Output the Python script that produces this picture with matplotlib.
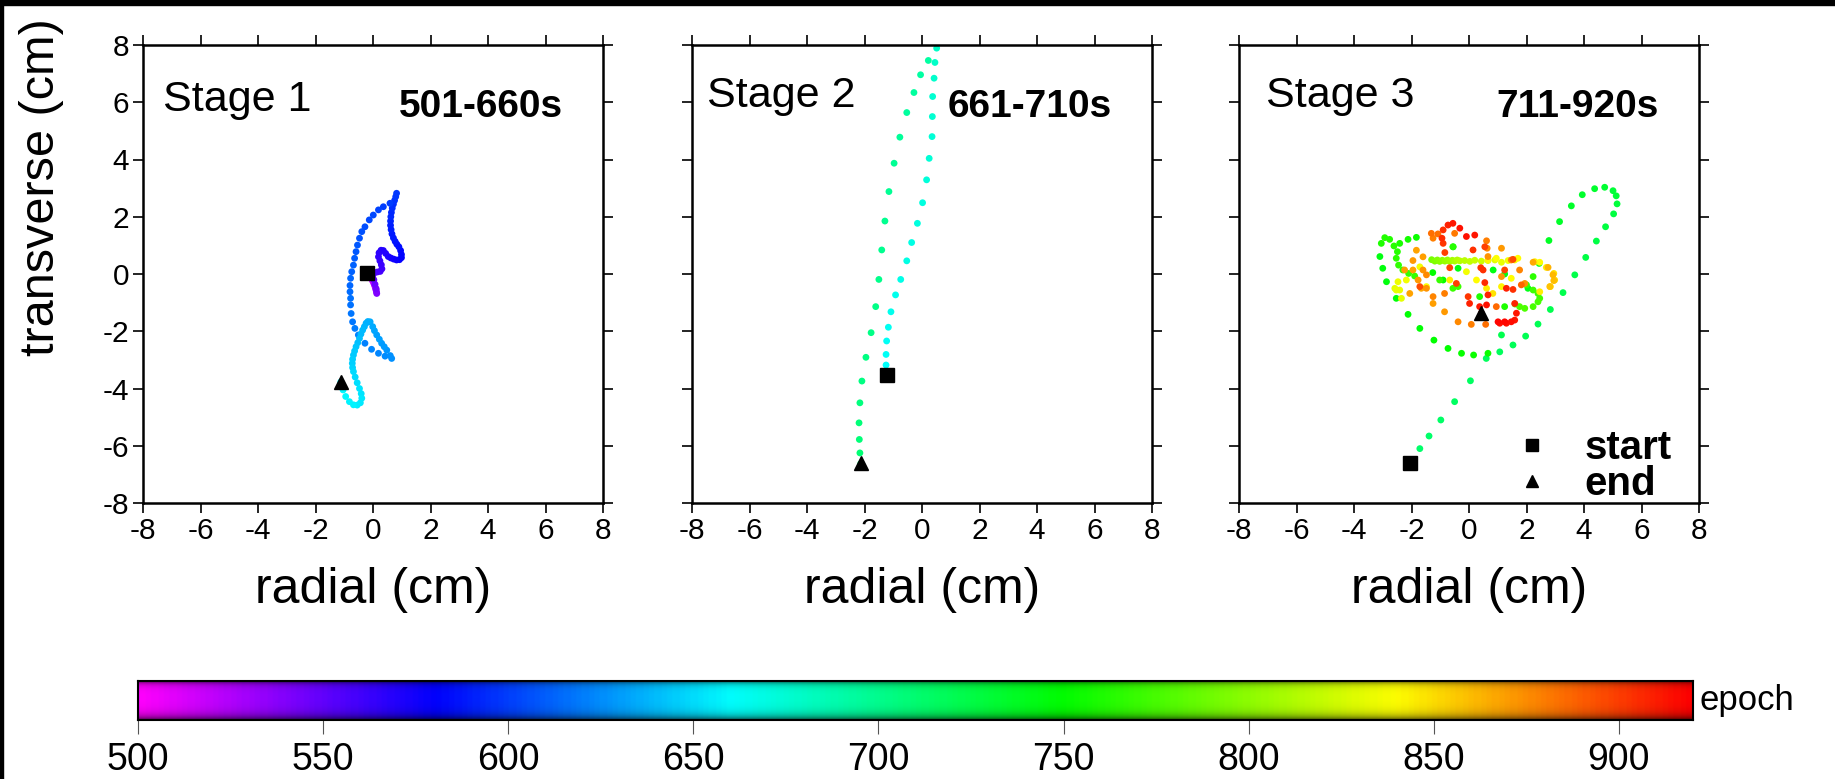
"""Particle motion in three stages, coloured by epoch."""

import matplotlib.pyplot as plt
import numpy as np
from matplotlib.colors import LinearSegmentedColormap, Normalize
from matplotlib.lines import Line2D
from matplotlib.patches import Rectangle

plt.rcParams["font.family"] = ["Liberation Sans", "DejaVu Sans"]
plt.rcParams["axes.unicode_minus"] = False

# ---- data (cm, epoch in s) ----
stage_titles = ["Stage 1", "Stage 2", "Stage 3"]
stage_ranges = ["501-660s", "661-710s", "711-920s"]

s1_x = [-0.22, -0.17, -0.11, -0.06, -0.02, 0.02, 0.05, 0.08, 0.10, 0.12, 0.13,
        0.11, 0.07, 0.03, -0.01,
        0.05, 0.15, 0.25, 0.31, 0.29, 0.24, 0.19, 0.21, 0.28, 0.36, 0.44, 0.53,
        0.62, 0.72, 0.82, 0.92, 0.99, 0.99, 0.96,
        0.90, 0.83, 0.77, 0.71, 0.66, 0.63, 0.61, 0.61, 0.62, 0.64, 0.67, 0.71,
        0.75, 0.79, 0.82,
        0.59, 0.36, 0.19, 0.01, -0.13, -0.28, -0.39, -0.47, -0.54, -0.59, -0.64,
        -0.68, -0.74, -0.78, -0.80, -0.80, -0.78, -0.78, -0.76, -0.71, -0.63,
        -0.51, -0.28, -0.05, 0.19, 0.42, 0.65,
        0.60, 0.48, 0.39, 0.30, 0.22, 0.13, 0.05, -0.01, -0.10, -0.18, -0.24,
        -0.30, -0.36, -0.42, -0.47, -0.53, -0.59, -0.64, -0.68, -0.71, -0.72,
        -0.71, -0.68,
        -0.62, -0.55, -0.47, -0.41, -0.39, -0.44, -0.55, -0.68, -0.82, -0.95,
        -1.04, -1.12]
s1_y = [0.02, -0.02, -0.08, -0.15, -0.23, -0.31, -0.39, -0.47, -0.55, -0.62, -0.68,
        -0.52, -0.36, -0.20, -0.05,
        0.04, 0.07, 0.09, 0.18, 0.32, 0.46, 0.60, 0.74, 0.83, 0.82, 0.72, 0.61,
        0.56, 0.52, 0.49, 0.50, 0.57, 0.68, 0.82,
        0.95, 1.04, 1.14, 1.26, 1.40, 1.55, 1.70, 1.85, 2.00, 2.15, 2.30, 2.44,
        2.57, 2.70, 2.82,
        2.47, 2.35, 2.24, 2.06, 1.89, 1.65, 1.48, 1.25, 1.01, 0.78, 0.55,
        0.31, 0.08, -0.15, -0.40, -0.62, -0.85, -1.08, -1.38, -1.67, -1.90,
        -2.13, -2.42, -2.63, -2.77, -2.87, -2.95,
        -2.85, -2.66, -2.54, -2.42, -2.28, -2.13, -1.98, -1.84, -1.67, -1.66, -1.72,
        -1.84, -1.96, -2.10, -2.25, -2.40, -2.54, -2.69, -2.83, -2.98, -3.12,
        -3.27, -3.41,
        -3.60, -3.80, -4.00, -4.18, -4.34, -4.50, -4.58, -4.57, -4.46, -4.28,
        -4.05, -3.77]
s1_t = [501, 505, 509, 513, 517, 521, 525, 529, 533, 537, 541,
        544, 547, 550, 553,
        555, 557, 558, 560, 561, 563, 564, 566, 567, 569, 570, 572,
        573, 575, 576, 578, 579, 581, 582,
        584, 585, 586, 587, 588, 589, 590, 591, 592, 593, 594, 595,
        596, 597, 598,
        599, 600, 601, 602, 603, 604, 605, 606, 607, 608, 609,
        610, 611, 612, 613, 614, 615, 616, 617, 618, 619,
        620, 621, 622, 623, 624, 625,
        626, 627, 628, 629, 630, 631, 632, 633, 634, 635, 636,
        637, 638, 639, 640, 641, 642, 643, 644, 645, 646,
        647, 648,
        649, 650, 651, 652, 653, 654, 655, 656, 657, 658,
        659, 660]

s2_x = [-1.23, -1.25, -1.25, -1.23, -1.17, -1.08, -0.92, -0.74, -0.53, -0.36,
        -0.16, 0.02, 0.16, 0.25, 0.35, 0.36, 0.37, 0.42, 0.45, 0.51,
        0.22, -0.05, -0.28, -0.53, -0.77, -0.97, -1.15, -1.29, -1.40, -1.50,
        -1.61, -1.77, -1.95, -2.09, -2.16, -2.19, -2.18, -2.16, -2.13]
s2_y = [-3.53, -3.18, -2.81, -2.34, -1.86, -1.32, -0.73, -0.19, 0.46, 1.10,
        1.77, 2.49, 3.29, 4.04, 4.80, 5.50, 6.20, 6.84, 7.39, 7.89,
        7.46, 6.96, 6.34, 5.64, 4.78, 3.87, 2.88, 1.85, 0.84, -0.19,
        -1.14, -2.05, -2.91, -3.74, -4.50, -5.20, -5.78, -6.25, -6.62]
s2_t = [661, 662, 663, 664, 665, 666, 667, 668, 669, 670,
        671, 672, 673, 674, 675, 676, 677, 678, 679, 680,
        692, 693, 694, 695, 696, 697, 698, 699, 700, 701,
        702, 703, 704, 705, 706, 707, 708, 709, 710]

s3_x = [-2.06, -1.71, -1.39, -0.98, -0.50, 0.05, 0.60,
        1.07, 1.53, 1.97, 2.40, 2.83, 3.27, 3.68, 4.06, 4.43, 4.75, 5.03, 5.15,
        5.12, 5.01, 4.72, 4.37, 3.94, 3.56, 3.15, 2.78, 2.44, 1.13,
        # greens
        2.05, 0.84, 1.24, -0.38, -0.55, -1.26, -0.90, -1.83, -2.12, -2.41,
        -3.05, -2.93, -2.76, -2.61, -2.49, -2.53, -2.45, -2.30, -2.10, -1.89,
        -3.10, -3.00, -2.87, -2.53, -2.12, -1.71, -1.22, -0.73, -0.26, 0.16, 0.66,
        2.00, 2.23, 2.40, 2.46, 2.40, 2.23, 1.94, 1.76, 1.24, 2.23, 1.60,
        -0.56, -0.38, -1.02, 0.37, -0.56,
        # yellow-green chain
        -1.30, -1.19, -1.10, -1.02, -0.93, -0.84, -0.75, -0.67, -0.58, -0.50,
        -0.41, -0.32, -0.15, 0.03, 0.20, 0.43, 0.66, 0.90, 1.13, 1.36, 1.59, 1.70,
        # yellows
        2.29, 2.69, 2.95, 2.98, 2.83, 2.46, 2.46, -1.71, -2.47, -2.53, -1.48,
        -0.09, 0.26, 0.95, 0.66, -2.35, -2.41, -2.58, -0.67, 0.61, 0.83, 1.13,
        1.47, -2.18,
        # oranges
        -1.08, -1.25, 0.61, 1.13, -1.83, -1.60, -1.95, -1.60, -1.95, -1.66,
        1.13, 0.63, -0.50, -1.31, 1.76, 1.94, 2.23, 2.75, 2.92, 2.95, 2.81,
        -2.24, -1.48, -1.77, -2.06, -1.48, -1.25, -0.85, -1.25, -0.85, -0.38,
        0.08, 0.58, 0.95, 1.82, 0.66, 1.47,
        # reds
        -0.73, -0.56, -0.90, -0.32, -0.09, 0.20, -0.94, -0.90, 0.14, -0.84,
        -0.67, 0.41, 0.55, 0.66, 1.30, 0.49, 0.55, 1.53, -0.44, 1.24, -1.71,
        -0.03, 1.53, 0.02, 0.37, 0.61, 1.59, 1.65, 1.47, 1.24, 1.01, 1.07, 1.30,
        1.59, 0.43]
s3_y = [-6.62, -6.10, -5.66, -5.10, -4.46, -3.73, -2.95,
        -2.72, -2.48, -2.17, -1.75, -1.24, -0.65, -0.03, 0.58, 1.15, 1.65, 2.10, 2.45,
        2.73, 2.91, 3.03, 2.98, 2.77, 2.38, 1.83, 1.17, 0.37, -2.13,
        # greens
        -0.50, 0.14, 0.00, 0.20, 0.95, 0.05, -0.21, 1.28, 1.21, 1.07,
        1.07, 1.27, 1.21, 0.98, 0.78, 0.55, 0.31, 0.14, 0.02, -0.07,
        0.61, 0.20, -0.27, -0.85, -1.41, -1.90, -2.31, -2.60, -2.77, -2.83, -2.77,
        -0.38, -0.56, -0.68, -0.85, -0.97, -1.14, -1.20, -1.14, -1.14, -0.09, -1.05,
        -0.50, -0.44, -0.21, -0.79, 0.95,
        # yellow-green chain
        0.50, 0.45, 0.49, 0.44, 0.48, 0.45, 0.49, 0.44, 0.48, 0.45,
        0.49, 0.46, 0.47, 0.44, 0.48, 0.45, 0.47, 0.49, 0.41, 0.47, 0.49, 0.55,
        # yellows
        0.43, 0.23, 0.02, -0.21, -0.44, -0.62, 0.41, 0.25, -0.27, -0.56, -0.44,
        0.08, -0.21, 0.55, 0.49, -0.85, -0.56, -0.50, -0.21, -0.50, -0.68, -0.44,
        -0.15, -0.21,
        # oranges
        1.40, 1.25, 1.16, 0.90, 0.83, 0.60, 0.47, 0.14, 0.14, -0.50,
        -0.09, 0.90, 1.42, 1.42, 0.14, -0.33, 0.41, 0.23, -0.03, -0.23, -0.44,
        0.14, -0.03, -0.21, -0.68, -0.50, -0.79, -0.68, -1.03, -1.32, -1.67,
        -1.76, -1.76, -1.14, -0.38, 0.61, 0.49,
        # reds
        1.71, 1.77, 1.54, 1.60, 1.31, 1.36, 1.25, 1.07, 0.84, 0.75,
        0.22, 0.22, -0.30, -0.73, -0.50, 0.14, 0.95, 0.51, -0.33, 0.14, -0.44,
        -0.79, -0.54, -1.03, -1.14, -1.08, -1.03, -1.37, -1.67, -1.67, -1.67, -1.72, -1.72,
        -1.61, -1.37]
s3_t = [711, 712, 713, 714, 715, 716, 717,
        718, 719, 720, 721, 722, 723, 724, 725, 726, 727, 728, 729,
        730, 731, 732, 733, 734, 735, 736, 737, 738, 722,
        # greens
        741, 744, 743, 746, 748, 750, 752, 754, 756, 758,
        760, 761, 762, 763, 764, 765, 766, 767, 768, 769,
        744, 745, 746, 747, 748, 749, 750, 751, 752, 753, 754,
        770, 771, 772, 773, 774, 775, 776, 777, 760, 765, 778,
        770, 771, 768, 760, 764,
        # yellow-green chain
        792, 794, 796, 798, 800, 802, 804, 806, 808, 810,
        812, 814, 816, 818, 820, 823, 826, 829, 832, 835, 838, 840,
        # yellows
        842, 845, 848, 850, 852, 846, 840, 836, 834, 832, 838,
        836, 840, 838, 842, 830, 833, 831, 844, 846, 848, 843,
        840, 836,
        # oranges
        885, 880, 880, 872, 868, 870, 872, 874, 868, 866,
        872, 876, 882, 884, 878, 874, 866, 864, 862, 860, 858,
        870, 876, 872, 868, 874, 878, 880, 870, 872, 876,
        880, 884, 886, 888, 874, 878,
        # reds
        910, 912, 905, 915, 915, 912, 906, 902, 904, 900,
        898, 902, 906, 908, 910, 904, 900, 896, 900, 898, 896,
        902, 904, 910, 912, 914, 908, 912, 916, 918, 917, 915, 914,
        913, 920]

stages = [(s1_x, s1_y, s1_t), (s2_x, s2_y, s2_t), (s3_x, s3_y, s3_t)]

epoch_min, epoch_max = 500, 920
epoch_ticks = [500, 550, 600, 650, 700, 750, 800, 850, 900]

# rainbow palette as in the colour bar
rainbow = LinearSegmentedColormap.from_list(
    "epoch_rainbow",
    [(0.0, "#ff00ff"), (0.19, "#0000ff"), (0.381, "#00ffff"),
     (0.595, "#00ff00"), (0.81, "#ffff00"), (1.0, "#ff0000")],
)
norm = Normalize(epoch_min, epoch_max)

W, H = 1835, 779
fig = plt.figure(figsize=(W / 100, H / 100), dpi=100)

panel_left = [143, 692, 1239]
panel_w, panel_top, panel_h = 460, 45, 458
title_pos = [(-7.30, 5.70), (-7.49, 5.82), (-7.05, 5.84)]

for i, (xs, ys, ts) in enumerate(stages):
    ax = fig.add_axes([panel_left[i] / W, 1 - (panel_top + panel_h) / H,
                       panel_w / W, panel_h / H])
    xs, ys, ts = np.asarray(xs), np.asarray(ys), np.asarray(ts)
    order = np.argsort(ts, kind="stable")
    ax.scatter(xs[order], ys[order], c=ts[order], cmap=rainbow, norm=norm,
               s=24, linewidths=0, zorder=2)
    ax.plot(xs[0], ys[0], "s", color="black", ms=9.5, zorder=4)
    ax.plot(xs[-1], ys[-1], "^", color="black", ms=10, zorder=4)

    ax.set_xlim(-8, 8)
    ax.set_ylim(-8, 8)
    ax.set_xticks(range(-8, 9, 2))
    ax.set_yticks(range(-8, 9, 2))
    ax.tick_params(direction="out", top=True, right=True, length=7, width=1.2,
                   labelsize=21.5, pad=3, labelleft=(i == 0))
    for sp in ax.spines.values():
        sp.set_linewidth(1.8)
    ax.set_xlabel("radial (cm)", fontsize=36)
    ax.xaxis.set_label_coords(0.5, -0.14)
    if i == 0:
        ax.set_ylabel("transverse (cm)", fontsize=35)
        ax.yaxis.set_label_coords(-0.172, 0.69)

    tx, ty = title_pos[i]
    ax.text(tx, ty, stage_titles[i], fontsize=31, ha="left", va="baseline")
    ax.text(6.6, 5.47, stage_ranges[i], fontsize=28, fontweight="bold",
            ha="right", va="baseline")

    if i == 2:
        handles = [Line2D([], [], ls="none", marker="s", color="black", ms=8),
                   Line2D([], [], ls="none", marker="^", color="black", ms=9)]
        ax.legend(handles, ["start", "end"], loc="lower right",
                  bbox_to_anchor=(0.975, -0.035), frameon=False,
                  prop={"weight": "bold", "size": 29}, handlelength=0.6,
                  handletextpad=1.0, labelspacing=-0.05, borderaxespad=0)

# colour bar with a little edge shading
cax = fig.add_axes([138 / W, 1 - 720 / H, 1555 / W, 39 / H])
grid = np.linspace(epoch_min, epoch_max, 600)
rgb = rainbow(norm(grid))[None, :, :3].repeat(40, axis=0)
v = np.linspace(0, 1, 40)[:, None, None]
shade = 1 - 0.55 * np.exp(-v / 0.08) - 0.65 * np.exp(-(1 - v) / 0.12)
cax.imshow(np.clip(rgb * shade, 0, 1), aspect="auto",
           extent=[epoch_min, epoch_max, 0, 1])
cax.set_xlim(epoch_min, epoch_max)
cax.set_yticks([])
cax.set_xticks(epoch_ticks)
cax.tick_params(axis="x", direction="out", length=10, width=0.8, color="#555555",
                labelsize=27, pad=6)
for sp in cax.spines.values():
    sp.set_linewidth(1.5)
cax.text(1.004, 0.5, "epoch", transform=cax.transAxes, fontsize=25,
         ha="left", va="center")

# dark frame along the top and left edges of the original picture
fig.patches.append(Rectangle((0, 1 - 5 / H), 1, 5 / H, transform=fig.transFigure,
                             color="black", zorder=10))
fig.patches.append(Rectangle((0, 0), 3 / W, 1, transform=fig.transFigure,
                             color="black", zorder=10))

fig.savefig("out.png", dpi=100)
